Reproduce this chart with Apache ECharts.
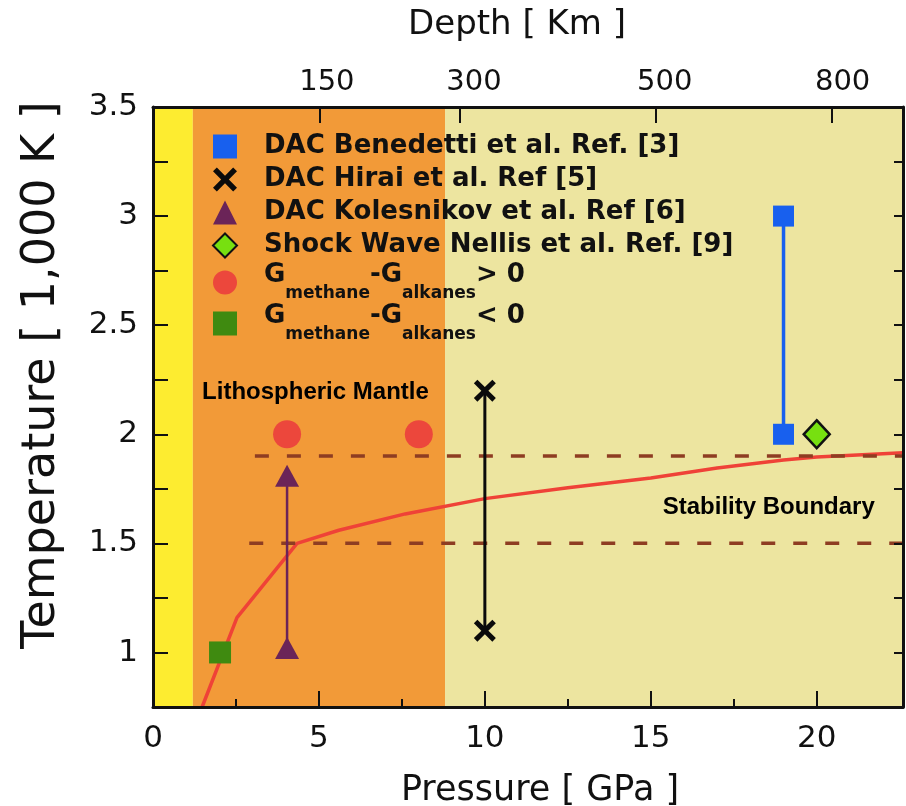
<!DOCTYPE html>
<html><head><meta charset="utf-8">
<script src="https://cdn.jsdelivr.net/npm/echarts@6/dist/echarts.min.js"></script>
<style>html,body{margin:0;padding:0;background:#fff}#c{width:906px;height:806px}</style>
</head><body><div id="c"></div>
<script>
// ---------- data ----------
const pressureTicks = [0, 5, 10, 15, 20];
const pressureMinorTicks = [2.5, 7.5, 12.5, 17.5];
const tempTicks = [0.75, 1, 1.25, 1.5, 1.75, 2, 2.25, 2.5, 2.75, 3, 3.25, 3.5];
const tempLabels = [1, 1.5, 2, 2.5, 3, 3.5];
const depthLabels = ['150', '300', '500', '800'];
const depthTickPos = [5.03, 9.25, 15.16, 20.45];
const depthLabelPos = [5.24, 9.67, 15.42, 20.78];
const regionEdges = [0, 1.2, 8.8, 22.6];
const benedetti = [[19, 2], [19, 3]];
const hirai = [[10, 2.2], [10, 1.1]];
const kolesnikov = [[4.04, 1.81], [4.04, 1.02]];
const nellis = [[20, 2]];
const gPositive = [[4.04, 2], [8.01, 2]];
const gNegative = [[2.02, 1]];
const boundary = [[1.48, 0.75], [2.53, 1.16], [4.34, 1.5], [5.6, 1.56], [7.6, 1.635], [10, 1.705],
  [12.5, 1.755], [15, 1.8], [17, 1.845], [19, 1.882], [20, 1.896], [22.6, 1.915]];
const upperDash = [[3.07, 1.9], [22.6, 1.9]];
const lowerDash = [[2.9, 1.5], [22.6, 1.5]];
const annotations = [[1.48, 2.19, 'Lithospheric Mantle'], [15.36, 1.667, 'Stability Boundary']];
const names = ['DAC Benedetti et al. Ref. [3]', 'DAC Hirai et al. Ref [5]', 'DAC Kolesnikov et al. Ref [6]',
  'Shock Wave Nellis et al. Ref. [9]', 'Gpos', 'Gneg'];

// ---------- styles ----------
const regionColors = ['#fdec30', '#f29a38', '#ede5a0'];
const FONT = 'DejaVu Sans';
const INK = '#111';
const xPath = 'path://M0,1.6 L1.6,0 L5,3.4 L8.4,0 L10,1.6 L6.6,5 L10,8.4 L8.4,10 L5,6.6 L1.6,10 L0,8.4 L3.4,5 Z';

const chart = echarts.init(document.getElementById('c'), null, {renderer: 'canvas'});

const bandData = [];
for (let i = 0; i < regionEdges.length - 1; i++) {
  bandData.push([{xAxis: regionEdges[i], itemStyle: {color: regionColors[i]}}, {xAxis: regionEdges[i + 1]}]);
}

function nearestIdx(arr, v) {
  let b = 0;
  for (let i = 1; i < arr.length; i++) if (Math.abs(arr[i] - v) < Math.abs(arr[b] - v)) b = i;
  return b;
}

const axisLine = {show: true, onZero: false, lineStyle: {color: INK, width: 3}};
const tickLine = {color: INK, width: 2};

const option = {
  animation: false,
  backgroundColor: '#fff',
  grid: {left: 153, right: 3, top: 107, bottom: 99, containLabel: false, outerBoundsMode: 'none'},
  xAxis: [
    {
      type: 'value', position: 'bottom', min: 0, max: 22.6, z: 10,
      name: 'Pressure [ GPa ]', nameLocation: 'middle', nameGap: 66,
      nameTextStyle: {fontFamily: FONT, fontSize: 35, color: INK, padding: [0, 0, 0, 24]},
      axisLine: axisLine,
      axisTick: {show: true, inside: true, length: 16, customValues: pressureTicks, lineStyle: tickLine},
      axisLabel: {customValues: pressureTicks, margin: 16, fontFamily: FONT, fontSize: 31, color: INK},
      splitLine: {show: false}
    },
    {
      type: 'value', position: 'top', min: 0, max: 22.6, z: 10,
      name: 'Depth [ Km ]', nameLocation: 'middle', nameGap: 65,
      nameTextStyle: {fontFamily: FONT, fontSize: 34, color: INK, padding: [0, 22, 0, 0]},
      axisLine: axisLine,
      axisTick: {show: true, inside: true, length: 16, customValues: depthTickPos, lineStyle: tickLine},
      axisLabel: {customValues: depthLabelPos, margin: 10, fontFamily: FONT, fontSize: 29, color: INK,
        formatter: v => depthLabels[nearestIdx(depthLabelPos, v)]},
      splitLine: {show: false}
    },
    {
      type: 'value', position: 'bottom', min: 0, max: 22.6, z: 10,
      axisLine: {show: false},
      axisTick: {show: true, inside: true, length: 8, customValues: pressureMinorTicks, lineStyle: tickLine},
      axisLabel: {show: false},
      splitLine: {show: false}
    }
  ],
  yAxis: [
    {
      type: 'value', position: 'left', min: 0.75, max: 3.5, z: 10,
      name: 'Temperature [ 1,000 K ]', nameLocation: 'middle', nameGap: 88,
      nameTextStyle: {fontFamily: FONT, fontSize: 46, color: INK, padding: [0, 0, 0, 64]},
      axisLine: axisLine,
      axisTick: {show: true, inside: true, length: 15, customValues: tempTicks, lineStyle: tickLine},
      axisLabel: {customValues: tempLabels, margin: 15, fontFamily: FONT, fontSize: 31, color: INK},
      splitLine: {show: false}
    },
    {
      type: 'value', position: 'right', min: 0.75, max: 3.5, z: 10,
      axisLine: axisLine,
      axisTick: {show: true, inside: true, length: 9, customValues: tempTicks, lineStyle: tickLine},
      axisLabel: {show: false},
      splitLine: {show: false}
    }
  ],
  legend: {
    orient: 'vertical', left: 207, top: 125, itemWidth: 24, itemHeight: 24, itemGap: 0,
    selectedMode: false, data: names,
    textStyle: {
      fontFamily: FONT, fontWeight: 'bold', fontSize: 26, color: INK, lineHeight: 33, padding: [0, 0, 0, 22],
      rich: {
        g: {fontFamily: FONT, fontWeight: 'bold', fontSize: 26, color: INK, lineHeight: 26, padding: [0, 0, 15, 0]},
        s: {fontFamily: FONT, fontWeight: 'bold', fontSize: 17, color: INK, lineHeight: 17, padding: [22, 0, 0, 0]}
      }
    },
    formatter: function (n) {
      if (n === 'Gpos') return '{g|G}{s|methane}{g|-}{g|G}{s|alkanes}{g|> 0}';
      if (n === 'Gneg') return '{g|G}{s|methane}{g|-}{g|G}{s|alkanes}{g|< 0}';
      return n;
    }
  },
  series: [
    {
      name: 'bands', type: 'scatter', data: [], z: 0, silent: true,
      markArea: {silent: true, data: bandData, itemStyle: {opacity: 1}}
    },
    {
      name: 'boundary', type: 'line', data: boundary, showSymbol: false, symbol: 'none', z: 3, silent: true,
      lineStyle: {color: '#ef4237', width: 3.5}
    },
    {
      name: 'dash1', type: 'line', data: upperDash, symbol: 'none', z: 4, silent: true,
      lineStyle: {color: '#8e3d22', width: 3.5, type: [14, 18]}
    },
    {
      name: 'dash2', type: 'line', data: lowerDash, symbol: 'none', z: 4, silent: true,
      lineStyle: {color: '#8e3d22', width: 3.5, type: [14, 18]}
    },
    {name: 'benLine', type: 'line', data: benedetti, symbol: 'none', z: 5, lineStyle: {color: '#1860ee', width: 3.5}},
    {name: 'hirLine', type: 'line', data: hirai, symbol: 'none', z: 5, lineStyle: {color: '#0b0b0b', width: 3}},
    {name: 'kolLine', type: 'line', data: kolesnikov, symbol: 'none', z: 5, lineStyle: {color: '#6b2458', width: 2.5}},
    {name: names[0], type: 'scatter', data: benedetti, symbol: 'rect', symbolSize: 21, z: 6, itemStyle: {color: '#1860ee', opacity: 1}},
    {name: names[1], type: 'scatter', data: hirai, symbol: xPath, symbolSize: 22, z: 6, itemStyle: {color: '#0b0b0b', opacity: 1}},
    {name: names[2], type: 'scatter', data: kolesnikov, symbol: 'triangle', symbolSize: [24, 22], z: 6, itemStyle: {color: '#6b2458', opacity: 1}},
    {name: names[3], type: 'scatter', data: nellis, symbol: 'diamond', symbolSize: [26, 28], z: 6,
      itemStyle: {color: '#77e010', borderColor: INK, borderWidth: 2.5, opacity: 1}},
    {name: names[4], type: 'scatter', data: gPositive, symbol: 'circle', symbolSize: 28, z: 6, itemStyle: {color: '#ec473c', opacity: 1}},
    {name: names[5], type: 'scatter', data: gNegative, symbol: 'rect', symbolSize: 22, z: 6, itemStyle: {color: '#3f8a10', opacity: 1}},
    {
      name: 'notes', type: 'scatter', data: annotations, symbolSize: 0, z: 7, silent: true,
      itemStyle: {opacity: 1},
      label: {show: true, position: 'right', distance: 0, formatter: p => p.value[2], opacity: 1,
        fontFamily: 'Liberation Sans', fontWeight: 'bold', fontSize: 24, color: '#000'}
    }
  ]
};
chart.setOption(option);
</script>
</body></html>
